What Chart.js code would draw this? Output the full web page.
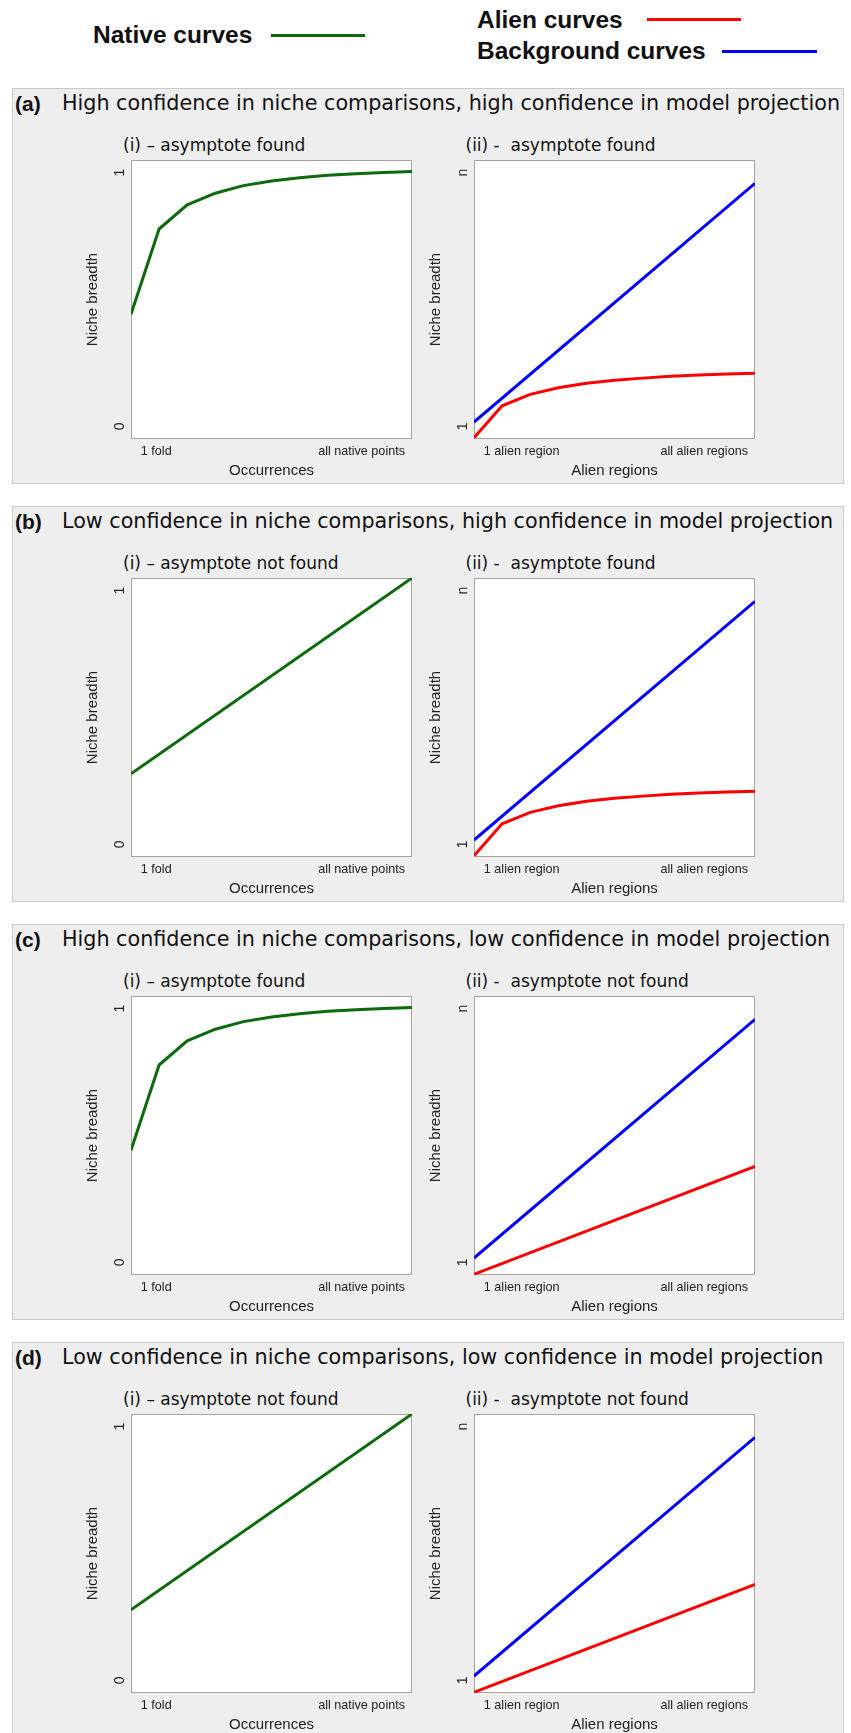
<!DOCTYPE html>
<html>
<head>
<meta charset="utf-8">
<script src="https://cdn.jsdelivr.net/npm/chart.js@4.4.1/dist/chart.umd.min.js"></script>
<style>
  html, body { margin: 0; padding: 0; background: #fff; }
  #page { position: relative; width: 851px; height: 1733px; overflow: hidden; background: #fff; }
  .abs { position: absolute; white-space: pre; transform: translateY(-50%); line-height: 1; color: #111; }
  .legend { font-family: "Liberation Sans", Arial, sans-serif; font-weight: bold; font-size: 24.5px; }
  .swatch { position: absolute; height: 3px; }
  .panel { position: absolute; left: 12px; width: 830px; height: 394px; background: #eeeeee; border: 1px solid #c9c9c9; }
  .letter { font-family: "Liberation Sans", Arial, sans-serif; font-weight: bold; font-size: 21px; }
  .title { font-family: "DejaVu Sans", Verdana, sans-serif; font-size: 20.7px; }
  .sub { font-family: "DejaVu Sans", Verdana, sans-serif; font-size: 17px; }
  canvas { position: absolute; }
</style>
</head>
<body>
<div id="page"></div>
<script>
// ---- data ----
const xSteps = [0, 1, 2, 3, 4, 5, 6, 7, 8, 9, 10];
const xEnds = [0, 10];

const nativeAsymptote = [0.442, 0.778, 0.873, 0.919, 0.949, 0.967, 0.980, 0.990, 0.996, 1.001, 1.005];
const nativeLinear = [0.278, 1.05];
const alienAsymptote = [-0.045, 0.081, 0.126, 0.152, 0.170, 0.182, 0.190, 0.197, 0.202, 0.206, 0.209];
const alienLinear = [-0.047, 0.378];
const backgroundLinear = [0.017, 0.958];

const yTickValues = [0, 1];
const nativeYLabels = ['0', '1'];
const alienYLabels = ['1', 'n'];
const xTickPos = [0.35, 9.75];
const nativeXLabels = ['1 fold', 'all native points'];
const alienXLabels = ['1 alien region', 'all alien regions'];

const panelLetters = ['(a)', '(b)', '(c)', '(d)'];
const panelTitles = [
    'High confidence in niche comparisons, high confidence in model projection',
    'Low confidence in niche comparisons, high confidence in model projection',
    'High confidence in niche comparisons, low confidence in model projection',
    'Low confidence in niche comparisons, low confidence in model projection'
];
const leftSubtitles = ['(i) \u2013 asymptote found', '(i) \u2013 asymptote not found', '(i) \u2013 asymptote found', '(i) \u2013 asymptote not found'];
const rightSubtitles = ['(ii) -  asymptote found', '(ii) -  asymptote found', '(ii) -  asymptote not found', '(ii) -  asymptote not found'];
const nativeFound = [true, false, true, false];
const alienFound = [true, true, false, false];

const GREEN = '#0b6a0b', RED = '#ff0000', BLUE = '#0000ff';

// ---- layout ----
const page = document.getElementById('page');
const panelTops = [88, 506, 924, 1342];
const plotLefts = [131, 474];
const PLOT_W = 281, PLOT_H = 279;
const Y_AXIS_W = 60, X_AXIS_H = 45, PAD = 2;

function addText(cls, text, x, yCenter) {
    const el = document.createElement('div');
    el.className = 'abs ' + cls;
    el.textContent = text;
    el.style.left = x + 'px';
    el.style.top = yCenter + 'px';
    page.appendChild(el);
    return el;
}

function addSwatch(color, x, y, w) {
    const el = document.createElement('div');
    el.className = 'swatch';
    el.style.left = x + 'px';
    el.style.top = (y - 1.5) + 'px';
    el.style.width = w + 'px';
    el.style.background = color;
    page.appendChild(el);
}

// legend
addText('legend', 'Native curves', 93, 35);
addSwatch(GREEN, 271, 35, 94);
addText('legend', 'Alien curves', 477, 20);
addSwatch(RED, 647, 19, 94);
addText('legend', 'Background curves', 477, 51);
addSwatch(BLUE, 722, 51, 95);

function toPoints(xs, ys) {
    return xs.map((x, i) => ({ x: x, y: ys[i] }));
}

// white plot area and grey frame
const framePlugin = {
    id: 'frame',
    beforeDatasetsDraw(chart) {
        const { ctx, chartArea: a } = chart;
        ctx.save();
        ctx.fillStyle = '#ffffff';
        ctx.fillRect(a.left, a.top, a.right - a.left, a.bottom - a.top);
        ctx.strokeStyle = '#a9a49c';
        ctx.lineWidth = 1;
        ctx.strokeRect(a.left + 0.5, a.top + 0.5, a.right - a.left - 1, a.bottom - a.top - 1);
        ctx.restore();
    }
};

// y tick labels are written sideways, like in the figure
const sideTicksPlugin = {
    id: 'sideTicks',
    afterDraw(chart, args, opts) {
        const { ctx, chartArea: a } = chart;
        const y = chart.scales.y;
        ctx.save();
        ctx.fillStyle = '#222';
        ctx.font = '14px "Liberation Sans", Arial, sans-serif';
        ctx.textAlign = 'center';
        ctx.textBaseline = 'middle';
        yTickValues.forEach((v, i) => {
            ctx.save();
            ctx.translate(a.left - 11, y.getPixelForValue(v));
            ctx.rotate(-Math.PI / 2);
            ctx.fillText(opts.labels[i], 0, 0);
            ctx.restore();
        });
        ctx.restore();
    }
};

function makeChart(plotLeft, plotTop, datasets, xLabels, xTitle, yLabels) {
    const canvas = document.createElement('canvas');
    const w = Y_AXIS_W + PLOT_W + PAD, h = PAD + PLOT_H + X_AXIS_H;
    canvas.width = w;
    canvas.height = h;
    canvas.style.width = w + 'px';
    canvas.style.height = h + 'px';
    canvas.style.left = (plotLeft - Y_AXIS_W) + 'px';
    canvas.style.top = (plotTop - PAD) + 'px';
    page.appendChild(canvas);

    new Chart(canvas, {
        type: 'line',
        data: { datasets: datasets },
        options: {
            responsive: false,
            animation: false,
            devicePixelRatio: 1,
            layout: { padding: { left: 0, right: PAD, top: PAD, bottom: 0 } },
            plugins: {
                legend: { display: false },
                tooltip: { enabled: false },
                sideTicks: { labels: yLabels }
            },
            elements: { point: { radius: 0 }, line: { tension: 0, borderWidth: 3 } },
            scales: {
                x: {
                    type: 'linear',
                    min: 0,
                    max: 10,
                    afterBuildTicks: (s) => { s.ticks = xTickPos.map(v => ({ value: v })); },
                    afterFit: (s) => { s.height = X_AXIS_H; },
                    grid: { display: false, drawTicks: false },
                    border: { display: false },
                    ticks: {
                        autoSkip: false,
                        maxRotation: 0,
                        minRotation: 0,
                        align: 'inner',
                        padding: 5,
                        color: '#222',
                        font: { family: '"Liberation Sans", Arial, sans-serif', size: 12.6 },
                        callback: (v, i) => xLabels[i]
                    },
                    title: {
                        display: true,
                        text: xTitle,
                        color: '#222',
                        font: { family: '"Liberation Sans", Arial, sans-serif', size: 15 },
                        padding: { top: 0, bottom: 4 }
                    }
                },
                y: {
                    type: 'linear',
                    min: -0.05,
                    max: 1.05,
                    afterFit: (s) => { s.width = Y_AXIS_W; },
                    grid: { display: false, drawTicks: false },
                    border: { display: false },
                    ticks: { display: false },
                    title: {
                        display: true,
                        text: 'Niche breadth',
                        color: '#222',
                        font: { family: '"Liberation Sans", Arial, sans-serif', size: 15 },
                        padding: { top: 13, bottom: 0 }
                    }
                }
            }
        },
        plugins: [framePlugin, sideTicksPlugin]
    });
}

panelTops.forEach((top, p) => {
    const box = document.createElement('div');
    box.className = 'panel';
    box.style.top = top + 'px';
    page.appendChild(box);

    addText('letter', panelLetters[p], 15, top + 15);
    addText('title', panelTitles[p], 62, top + 15);
    addText('sub', leftSubtitles[p], plotLefts[0] - 8, top + 57);
    addText('sub', rightSubtitles[p], plotLefts[1] - 8.5, top + 57);

    const plotTop = top + 72;

    const native = nativeFound[p]
        ? toPoints(xSteps, nativeAsymptote)
        : toPoints(xEnds, nativeLinear);
    makeChart(plotLefts[0], plotTop,
        [{ label: 'Native curves', data: native, borderColor: GREEN }],
        nativeXLabels, 'Occurrences', nativeYLabels);

    const alien = alienFound[p]
        ? toPoints(xSteps, alienAsymptote)
        : toPoints(xEnds, alienLinear);
    makeChart(plotLefts[1], plotTop,
        [
            { label: 'Background curves', data: toPoints(xEnds, backgroundLinear), borderColor: BLUE },
            { label: 'Alien curves', data: alien, borderColor: RED }
        ],
        alienXLabels, 'Alien regions', alienYLabels);
});
</script>
</body>
</html>
